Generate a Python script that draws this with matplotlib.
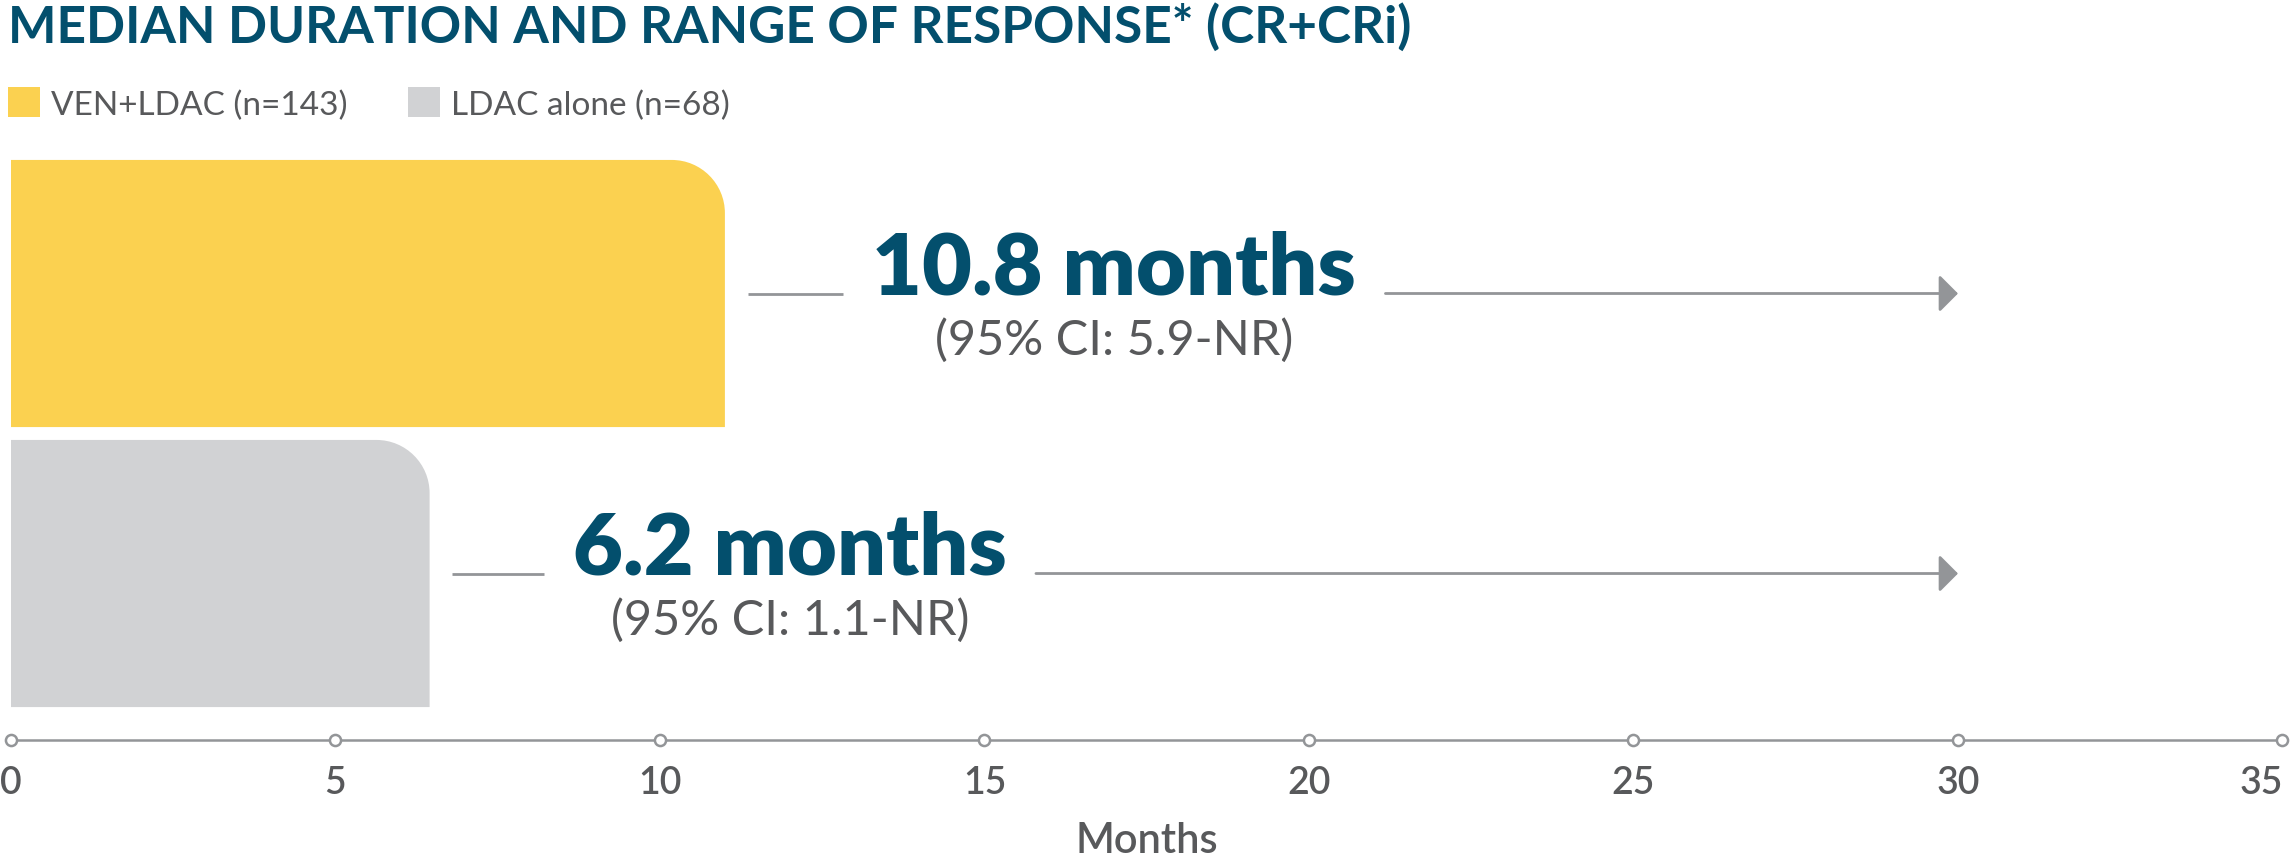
import matplotlib
matplotlib.use("Agg")
import matplotlib.pyplot as plt
from matplotlib.path import Path
from matplotlib.patches import PathPatch, Patch

# data
groups = ["VEN+LDAC (n=143)", "LDAC alone (n=68)"]
bar_end = [11.0, 6.45]            # months, where each bar stops
median_labels = ["10.8 months", "6.2 months"]
ci_labels = ["(95% CI: 5.9-NR)", "(95% CI: 1.1-NR)"]
range_end = [30, 30]              # arrow tips
ticks = [0, 5, 10, 15, 20, 25, 30, 35]

colors = ["#FBD150", "#D1D2D4"]
teal = "#034F6D"
txt_gray = "#58595B"
line_gray = "#939598"

plt.rcParams['font.family'] = ['Lato', 'DejaVu Sans']

fig = plt.figure(figsize=(22.9, 8.62), dpi=100)
ax = fig.add_axes([11 / 2290, 121 / 862, 2271.5 / 2290, 586.5 / 862])
ax.set_xlim(0, 35)
ax.set_ylim(-0.5946, 1.5)

rows = [1, 0]
bar_h = 0.954
rx, ry = 0.82, 0.19   # corner radius in data units


def rounded_bar(y, length, color):
    x0, x1 = 0, length
    y0, y1 = y - bar_h / 2, y + bar_h / 2
    k = 0.5523
    verts = [(x0, y0), (x1, y0), (x1, y1 - ry),
             (x1, y1 - ry + k * ry), (x1 - rx + k * rx, y1), (x1 - rx, y1),
             (x0, y1), (x0, y0)]
    codes = [Path.MOVETO, Path.LINETO, Path.LINETO,
             Path.CURVE4, Path.CURVE4, Path.CURVE4,
             Path.LINETO, Path.CLOSEPOLY]
    ax.add_patch(PathPatch(Path(verts, codes), facecolor=color, edgecolor='none', zorder=1))


label_x = [17.0, 12.0]
gap = 0.35       # bar end -> line start
text_gap = 0.45  # line <-> big label
big = []
for i in range(2):
    y = rows[i]
    rounded_bar(y, bar_end[i], colors[i])
    t = ax.text(label_x[i], y, median_labels[i], ha='center', va='baseline',
                fontsize=62, fontweight='heavy', color=teal, zorder=4)
    big.append(t)
    ax.text(label_x[i], y - 0.214, ci_labels[i], ha='center', va='baseline',
            fontsize=35, fontweight='normal', color=txt_gray, zorder=5)

# split each range line around its label
fig.canvas.draw()
r = fig.canvas.get_renderer()
inv = ax.transData.inverted()
for i in range(2):
    y = rows[i]
    bb = big[i].get_window_extent(r)
    xl = inv.transform((bb.x0, 0))[0]
    xr = inv.transform((bb.x1, 0))[0]
    ax.plot([bar_end[i] + gap, xl - text_gap], [y, y], color=line_gray, lw=2.0,
            solid_capstyle='butt', zorder=2)
    ax.annotate('', xy=(range_end[i], y), xytext=(xr + text_gap, y),
                arrowprops=dict(arrowstyle='-|>,head_length=11.5,head_width=11.5',
                                mutation_scale=1, color=line_gray, lw=2.0,
                                shrinkA=0, shrinkB=0),
                zorder=2)

# axis line with open circles
y_axis = ax.get_ylim()[0]
ax.plot([ticks[0], ticks[-1]], [y_axis, y_axis], color=line_gray, lw=1.8,
        clip_on=False, zorder=3)
ax.plot(ticks, [y_axis] * len(ticks), linestyle='none', marker='o', ms=8,
        mfc='white', mec=line_gray, mew=1.8, clip_on=False, zorder=4)

for s in ax.spines.values():
    s.set_visible(False)
ax.set_yticks([])
ax.set_xticks(ticks)
ax.set_xticklabels([str(t) for t in ticks], fontsize=27, fontweight='semibold',
                   color=txt_gray)
ax.get_xticklabels()[-1].set_ha('right')
ax.tick_params(axis='x', length=0, pad=18)
ax.set_xlabel("Months", fontsize=30, fontweight='semibold', color=txt_gray,
              labelpad=15)

fig.text(8 / 2290, 1 - 43 / 862, "MEDIAN DURATION AND RANGE OF RESPONSE* (CR+CRi)",
         fontsize=37, fontweight='bold', color=teal, va='baseline', ha='left')

handles = [Patch(facecolor=c, edgecolor='none') for c in colors]
fig.legend(handles, groups, loc='center left',
           bbox_to_anchor=(8 / 2290, 1 - 104.5 / 862), ncol=2, frameon=False,
           handlelength=0.95, handleheight=1.0,
           handletextpad=0.35, columnspacing=1.8, borderpad=0, borderaxespad=0,
           prop={'weight': 'normal', 'size': 24}, labelcolor=txt_gray)

fig.savefig("out.png", dpi=100, facecolor='white')
